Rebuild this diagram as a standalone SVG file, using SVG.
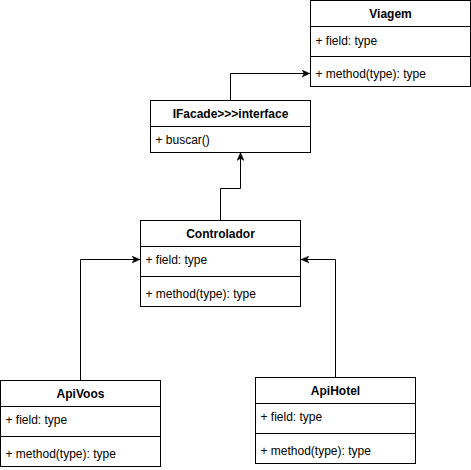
<svg xmlns="http://www.w3.org/2000/svg" width="471" height="470" viewBox="0 0 471 470">
<style>
.box{fill:#fff;stroke:#000;stroke-width:1}
.ln{stroke:#000;stroke-width:1;fill:none}
.t{font-family:"Liberation Sans",Arial,sans-serif;font-size:12px;fill:#000}
.h{font-weight:bold;text-anchor:middle}
</style>
<defs>
<marker id="arr" viewBox="0 0 10 10" refX="10" refY="5" markerWidth="8" markerHeight="8" markerUnits="userSpaceOnUse" orient="auto">
<path d="M10,5 L0,0.6 L2.6,5 L0,9.4 Z" fill="#000" stroke="#000" stroke-width="0.5"/>
</marker>
</defs>
<rect width="471" height="470" fill="#fff"/>
<g id="connectors">
<path class="ln" d="M230.5,100 V73.5 H310" marker-end="url(#arr)"/>
<path class="ln" d="M220.5,220 V188.5 H240.5 V152.5" marker-end="url(#arr)"/>
<path class="ln" d="M80.5,380 V259.5 H140" marker-end="url(#arr)"/>
<path class="ln" d="M335.5,377 V259.5 H301" marker-end="url(#arr)"/>
</g>
<g id="viagem">
<rect class="box" x="310.5" y="0.5" width="160" height="86"/>
<line class="ln" x1="310.5" y1="26.5" x2="470.5" y2="26.5"/>
<line class="ln" x1="310.5" y1="56.5" x2="470.5" y2="56.5"/>
<text class="t h" x="390.5" y="18">Viagem</text>
<text class="t" x="315.5" y="45">+ field: type</text>
<text class="t" x="315.5" y="78">+ method(type): type</text>
</g>
<g id="ifacade">
<rect class="box" x="150.5" y="100.5" width="160" height="52"/>
<line class="ln" x1="150.5" y1="126.5" x2="310.5" y2="126.5"/>
<text class="t h" x="230.5" y="118">IFacade&gt;&gt;&gt;interface</text>
<text class="t" x="155.5" y="144">+ buscar()</text>
</g>
<g id="controlador">
<rect class="box" x="140.5" y="220.5" width="160" height="86"/>
<line class="ln" x1="140.5" y1="246.5" x2="300.5" y2="246.5"/>
<line class="ln" x1="140.5" y1="276.5" x2="300.5" y2="276.5"/>
<text class="t h" x="220.5" y="238">Controlador</text>
<text class="t" x="145.5" y="264">+ field: type</text>
<text class="t" x="145.5" y="298">+ method(type): type</text>
</g>
<g id="apivoos">
<rect class="box" x="0.5" y="380.5" width="160" height="86"/>
<line class="ln" x1="0.5" y1="406.5" x2="160.5" y2="406.5"/>
<line class="ln" x1="0.5" y1="436.5" x2="160.5" y2="436.5"/>
<text class="t h" x="80.5" y="398">ApiVoos</text>
<text class="t" x="5.5" y="424">+ field: type</text>
<text class="t" x="5.5" y="458">+ method(type): type</text>
</g>
<g id="apihotel">
<rect class="box" x="255.5" y="377.5" width="160" height="86"/>
<line class="ln" x1="255.5" y1="403.5" x2="415.5" y2="403.5"/>
<line class="ln" x1="255.5" y1="433.5" x2="415.5" y2="433.5"/>
<text class="t h" x="335.5" y="395">ApiHotel</text>
<text class="t" x="260.5" y="421">+ field: type</text>
<text class="t" x="260.5" y="455">+ method(type): type</text>
</g>
</svg>
